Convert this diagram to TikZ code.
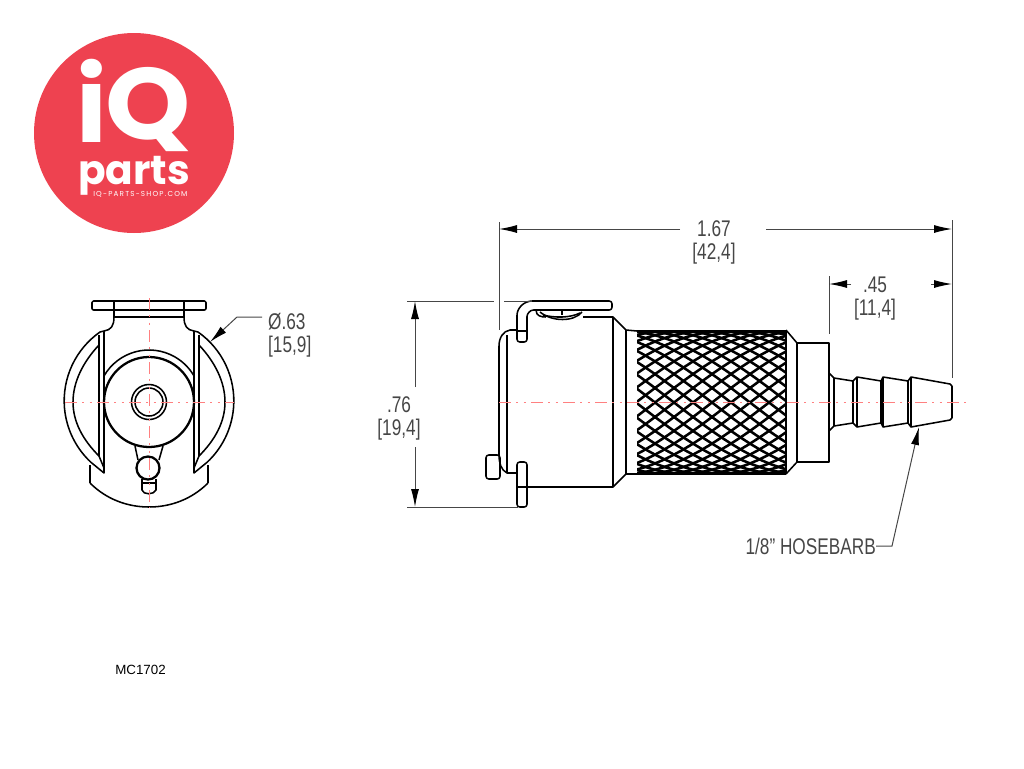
\documentclass[tikz,border=0pt]{standalone}
\usepackage{fontspec}
\setmainfont{Liberation Sans}
\newfontfamily\logofont{Poppins}
\usetikzlibrary{arrows.meta}
\definecolor{logored}{RGB}{238,66,80}
\definecolor{dimgray}{RGB}{70,70,70}
\tikzstyle{part} = [draw=black, line width=1.15pt, line join=round]
\tikzstyle{thick part} = [draw=black, line width=1.7pt, line join=round]
\tikzstyle{knurl} = [draw=black, line width=1.9pt]
\tikzstyle{axis} = [draw=red!50, line width=.65pt, dash pattern=on 9pt off 4pt on 1.5pt off 4pt on 1.5pt off 4pt]
\tikzstyle{dimline} = [draw=dimgray, line width=.75pt]
\tikzstyle{dimtip} = [dimline, -{Latex[length=13.5pt,width=6pt,color=black]}]
\tikzstyle{dimtext} = [text=dimgray, inner sep=0pt, font=\fontsize{17}{20}\selectfont, xscale=.76]
\tikzstyle{logotext} = [text=white, inner sep=0pt, anchor=base west]

\begin{document}
\begin{tikzpicture}[x=.75pt, y=-.75pt]
	\useasboundingbox (0,0) rectangle (1024,768);

	% logo
	\node [name = LOGO, circle, fill=logored, minimum size=150pt, inner sep=0pt] at (134,133) {};
	\node [logotext, name = LOGOI, font=\logofont\bfseries\fontsize{78}{78}\selectfont] at (76,142) {i};
	\node [logotext, name = LOGOQ, xscale=1.07, font=\logofont\bfseries\fontsize{76}{76}\selectfont] at (105,139) {Q};
	\node [logotext, name = LOGOP, font=\logofont\bfseries\fontsize{30.5}{31}\selectfont] at (78,184) {parts};
	\node [logotext, name = LOGOW, font=\logofont\fontsize{5.4}{6}\selectfont] at (93,196) {I\,Q\,-\,P\,A\,R\,T\,S\,-\,S\,H\,O\,P\,.\,C\,O\,M};

	% front view
	\draw [part, rounded corners=1pt] (92,301) rectangle (206,310);
	\foreach \s in {-1,1} {
		\begin{scope}[shift={(149,402)}, xscale=\s]
			\draw [part] (35,-101) -- (35,-85) .. controls (35,-76) and (38,-72) .. (45,-71) -- (49,-70) arc[start angle=-55, end angle=47, radius=84] -- (45,71) -- (45,-71);
			\draw [part] (50,-67) -- (50,54) -- (45,66);
			\draw [part] (50,-57) .. controls (66,-40) and (76,-20) .. (76,0) .. controls (76,20) and (66,38) .. (50,54);
			\draw [part] (59,63) -- (59,81);
		\end{scope}
	}
	\draw [part] (114,317) -- (184,317);
	\draw [part] (90,483) .. controls (106,499) and (127,507) .. (149,507) .. controls (171,507) and (192,499) .. (208,483);
	\draw [thick part] (149,402) circle [radius=45];
	\draw [part] (149,402) ++(210:52) arc[start angle=210, end angle=330, radius=52];
	\draw [part] (149,402) circle [radius=17.5];
	\draw [part] (149,402) circle [radius=14];
	\draw [part] (135,446) -- (138,460);
	\draw [part] (163,446) -- (159,460);
	\draw [thick part] (148,468) circle [radius=11.5];
	\draw [part] (142,479) -- (142,490) .. controls (143,495) and (154,495) .. (156,490) -- (156,479);
	\draw [part] (142,483) -- (156,483);
	\draw [axis] (149,298) -- (149,508);
	\draw [axis] (65,402) -- (234,402);

	\node [dimtext, name = DIAA, anchor=west] at (268,322) {Ø.63};
	\node [dimtext, name = DIAB, anchor=west] at (268,347) {[15,9]};
	\coordinate (DIATIP) at (210,342);
	\draw [dimtip] (DIAA.west) ++(-6,-5) -- (237,317) -- (DIATIP);

	% side view: collar and clips
	\draw [part] (517,330) -- (510,330) .. controls (503,331) and (499,338) .. (499,346) -- (499,455) .. controls (499,463) and (501,470) .. (507,473) -- (517,473);
	\draw [part] (507,335) -- (507,473);
	\draw [part, rounded corners=2pt] (517,342) -- (517,318) .. controls (517,308) and (524,301) .. (535,301) -- (612,301) -- (612,310) -- (536,310) .. controls (530,310) and (527,314) .. (527,319) -- (527,342) -- cycle;
	\draw [part] (517,331) -- (527,331);
	\draw [part] (536,310) .. controls (536,316) and (541,317) .. (546,317);
	\draw [part] (540,312) .. controls (552,322) and (574,322) .. (582,312);
	\draw [part] (543,315) .. controls (555,318) and (570,318) .. (580,313);
	\draw [part] (562,310) -- (562,315);
	\draw [part, rounded corners=2pt] (517,462) rectangle (527,507);
	\draw [part] (517,487) -- (527,487);
	\draw [part, rounded corners=2pt] (486,455) rectangle (500,479);

	% side view: body
	\draw [part] (583,317) -- (613,317) -- (626,330) -- (637,331);
	\draw [part] (527,487) -- (613,487) -- (626,474) -- (637,474);
	\draw [part] (613,317) -- (613,487);
	\draw [part] (626,330) -- (626,474);

	% knurl
	\begin{scope}
		\clip (637,331) rectangle (786,474);
		\foreach \k in {0,...,24} {
			\draw [knurl] plot[domain=-90:90, samples=31] ({484+\k*19+93*\x/57.3}, {402.5+71.5*sin(\x)});
			\draw [knurl] plot[domain=-90:90, samples=31] ({484+\k*19-93*\x/57.3}, {402.5+71.5*sin(\x)});
		}
	\end{scope}
	\draw [thick part] (637,331) -- (786,331);
	\draw [thick part] (637,474) -- (786,474);

	% side view: flange and hose barb
	\draw [part] (786,330) -- (786,474);
	\draw [part] (786,330) -- (797,343) -- (829,343) -- (829,462) -- (797,462) -- (786,474);
	\draw [part] (797,343) -- (797,462);
	\foreach \s in {-1,1} {
		\begin{scope}[shift={(0,402)}, yscale=\s]
			\draw [part] (829,29) -- (834,24) -- (853,21);
			\draw [part] (853,21) -- (857,25) -- (881,21) -- (883,25) -- (908,21) -- (911,25) -- (950,18) -- (952,16);
		\end{scope}
	}
	\draw [part] (834,378) -- (834,426);
	\draw [part] (853,381) -- (853,423);
	\draw [part] (857,377) -- (857,427);
	\draw [part] (881,381) -- (881,423);
	\draw [part] (883,377) -- (883,427);
	\draw [part] (908,381) -- (908,423);
	\draw [part] (911,377) -- (911,427);
	\draw [thick part] (952,386) -- (952,418);
	\draw [axis] (499,402) -- (968,402);

	% dimensions
	\node [dimtext, name = LENA] at (714,229) {1.67};
	\node [dimtext, name = LENB] at (714,254) {[42,4]};
	\coordinate (LENL) at (499,229);
	\coordinate (LENR) at (952,229);
	\draw [dimline] (499,222) -- (499,330);
	\draw [dimline] (952,220) -- (952,378);
	\draw [dimtip] (680,229) -- (LENL);
	\draw [dimtip] (766,229) -- (LENR);

	\node [dimtext, name = BARA] at (875,285) {.45};
	\node [dimtext, name = BARB] at (875,310) {[11,4]};
	\coordinate (BARL) at (829,284);
	\coordinate (BARR) at (952,284);
	\draw [dimline] (829,276) -- (829,334);
	\draw [dimtip] (851,284) -- (BARL);
	\draw [dimtip] (931,284) -- (BARR);

	\node [dimtext, name = HIGHA] at (399,405) {.76};
	\node [dimtext, name = HIGHB] at (399,430) {[19,4]};
	\coordinate (HIGHT) at (415,301);
	\coordinate (HIGHD) at (415,507);
	\draw [dimline] (407,301) -- (494,301);
	\draw [dimline] (504,301) -- (532,301);
	\draw [dimline] (407,507) -- (518,507);
	\draw [dimtip] (415,387) -- (HIGHT);
	\draw [dimtip] (415,447) -- (HIGHD);

	\node [dimtext, name = HOSE, anchor=east] at (876,546) {1/8" HOSEBARB};
	\coordinate (HOSETIP) at (919,427);
	\draw [dimtip] (HOSE.east) -- (892,546) -- (HOSETIP);

	\node [name = PARTNO, inner sep=0pt, font=\fontsize{10}{11}\selectfont] at (140.5,670) {MC1702};
\end{tikzpicture}
\end{document}
